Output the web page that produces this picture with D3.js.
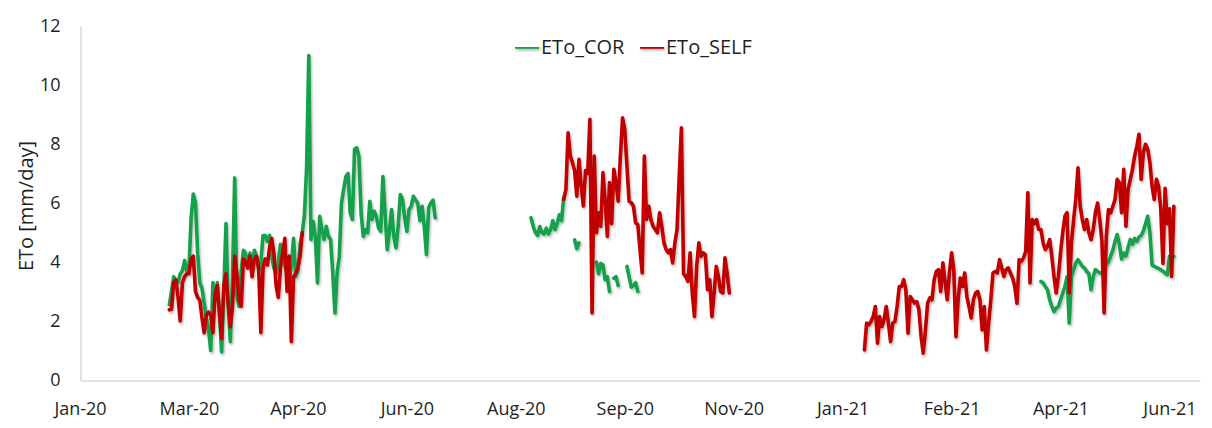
<!DOCTYPE html>
<html>
<head>
<meta charset="utf-8">
<script src="https://cdn.jsdelivr.net/npm/d3@7"></script>
<style>
  html, body { margin: 0; padding: 0; background: #fff; }
  svg { display: block; font-family: "Open Sans", sans-serif; }
</style>
</head>
<body>
<svg id="chart" width="1212" height="428"></svg>
<script>
// Daily reference evapotranspiration ETo (mm/day).
// Each campaign is a start date plus one value per day; null marks a missing day.
const corSpring2020Start = "2020-02-29";
const corSpring2020 = [
  2.55, 3.0, 3.5, 3.35, 3.3, 3.6, 3.7, 4.05, 3.7, 3.75,
  5.5, 6.3, 6.0, 4.3, 3.3, 3.1, 2.6, 2.1, 1.7, 1.0,
  3.3, 2.7, 3.3, 2.2, 0.95, 3.0, 5.3, 2.5, 1.3, 3.5,
  6.85, 2.8, 2.5, 3.7, 4.4, 4.3, 3.8, 4.3, 3.6, 4.4,
  4.2, 3.7, 4.0, 4.9, 4.9, 4.7, 4.9, 4.2, 3.8, 3.6,
  4.0, 4.6, 4.5, 3.9, 3.6, 3.3, 3.9, 4.8, 3.5, 3.7,
  4.6, 5.0, 5.6, 7.2, 11.0, 4.76, 5.38, 4.87, 3.29, 5.55,
  5.1, 4.76, 5.21, 4.87, 4.76, 3.63, 2.27, 3.63, 4.19, 6.0,
  6.46, 6.9, 7.0, 5.67, 5.44, 7.82, 7.87, 7.59, 5.67, 4.87,
  5.1, 4.99, 6.06, 5.44, 5.72, 5.55, 5.16, 5.04, 6.9, 5.67,
  4.42, 5.04, 5.78, 4.87, 4.48, 5.2, 6.29, 6.12, 5.5, 5.04,
  5.78, 5.89, 6.23, 6.1, 6.0, 5.4, 5.89, 5.2, 4.25, 5.84,
  6.0, 6.1, 5.5
];

const selfSpring2020Start = "2020-02-29";
const selfSpring2020 = [
  2.38, 2.4, 3.3, 3.4, 2.8, 2.0, 3.3, 3.5, 3.6, 3.6,
  4.1, 4.2, 3.0, 2.8, 2.7, 2.1, 1.6, 2.2, 2.3, 2.2,
  1.6, 2.9, 3.2, 2.3, 1.4, 3.2, 3.6, 2.6, 1.8, 2.5,
  4.2, 3.6, 2.7, 2.5, 4.1, 4.0, 3.8, 4.2, 3.5, 4.1,
  4.2, 3.8, 1.6, 3.8, 4.1, 3.9, 4.5, 4.8, 4.3, 3.2,
  2.8, 3.8, 4.3, 4.8, 3.0, 4.2, 1.3, 3.5, 3.6, 3.8,
  4.2, 5.0
];

const corSummer2020Start = "2020-08-13";
const corSummer2020 = [
  5.5, 5.2, 5.0, 4.9, 5.2, 5.0, 4.95, 5.15, 4.95, 5.1,
  5.4, 5.1, 5.3, 5.6, 5.4, 6.2, null, null, null, null,
  4.75, 4.45, 4.65, null, null, null, null, null, null, null,
  4.0, 3.6, 3.95, 3.9, 3.4, 3.5, 3.0, null, 3.45, 3.5,
  3.2, null, null, null, 3.85, 3.5, 3.15, 3.2, 3.3, 3.0
];

const selfAutumn2020Start = "2020-08-28";
const selfAutumn2020 = [
  6.12, 6.46, 8.38, 7.6, 7.37, 7.1, 6.23, 7.48, 6.6, 5.9,
  7.1, 7.0, 8.84, 2.27, 7.59, 4.99, 5.67, 5.21, 7.03, 6.1,
  4.87, 6.69, 5.3, 7.14, 6.69, 6.06, 7.6, 8.89, 8.5, 7.25,
  6.06, 6.01, 5.89, 5.33, 5.27, 4.42, 3.63, 7.59, 5.44, 5.89,
  5.44, 5.21, 5.1, 4.99, 5.67, 5.2, 4.65, 4.42, 4.31, 4.42,
  3.97, 4.65, 5.1, 6.9, 8.55, 3.6, 3.51, 3.34, 4.31, 2.95,
  2.15, 3.85, 4.65, 4.19, 4.31, 4.25, 3.06, 3.4, 2.15, 2.95,
  3.85, 3.51, 3.0, 2.95, 4.14, 3.6, 2.95
];

const self2021Start = "2021-01-13";
const self2021 = [
  1.02, 1.93, 1.87, 1.98, 2.15, 2.49, 1.25, 2.15, 1.81, 2.04,
  2.49, 1.93, 1.3, 1.93, 1.98, 2.49, 3.17, 3.17, 3.4, 3.06,
  1.59, 2.83, 2.72, 2.61, 2.66, 2.38, 1.47, 0.91, 1.7, 2.61,
  2.78, 2.72, 3.4, 3.68, 3.74, 3.0, 3.97, 3.34, 2.72, 3.63,
  4.31, 3.74, 1.47, 2.72, 3.46, 3.17, 3.63, 2.83, 2.49, 2.1,
  2.72, 2.95, 3.0, 2.72, 1.7, 2.49, 1.02, 1.93, 2.72, 3.63,
  3.68, 3.63, 4.08, 3.8, 3.51, 3.74, 3.8, 3.63, 3.46, 3.17,
  2.6, 4.08, 4.02, 4.14, 4.36, 6.35, 3.29, 5.44, 5.3, 5.44,
  5.1, 5.1, 4.65, 4.42, 4.53, 4.76, 4.19, 3.51, 2.95, 3.51,
  4.31, 4.99, 5.55, 5.67, 2.95, 4.65, 5.44, 6.12, 7.19, 5.89,
  5.44, 5.1, 5.44, 4.99, 4.76, 5.1, 5.67, 6.0, 5.44, 4.7,
  2.27, 4.87, 5.78, 5.67, 5.89, 6.12, 6.8, 6.69, 5.67, 7.14,
  5.21, 6.46, 6.8, 7.14, 7.59, 7.93, 8.33, 6.8, 7.71, 7.99,
  7.82, 7.37, 6.57, 6.12, 6.8, 6.57, 5.8, 3.95, 6.5, 5.3,
  5.8, 3.51, 5.89
];

const cor2021Start = "2021-04-04";
const cor2021 = [
  3.34, 3.29, 3.17, 3.06, 2.72, 2.49, 2.32, 2.44, 2.49, 2.72,
  2.95, 3.17, 3.5, 1.93, 3.51, 3.74, 3.97, 4.08, 3.97, 3.85,
  3.8, 3.68, 3.6, 3.06, 3.51, 3.74, 3.68, 3.63, 3.63, 3.7,
  3.9, 4.0, 4.2, 4.4, 4.7, 4.93, 4.6, 4.1, 4.3, 4.2,
  4.5, 4.76, 4.6, 4.8, 4.7, 4.85, 4.9, 5.05, 5.3, 5.55,
  5.0, 3.9, 3.85, 3.82, 3.78, 3.74, 3.68, 3.62, 3.57, 4.19,
  4.2, 4.19
];

// Axis ticks
const tickDates = ["2020-01-19", "2020-03-09", "2020-04-28", "2020-06-17", "2020-08-06",
                   "2020-09-25", "2020-11-14", "2021-01-03", "2021-02-22", "2021-04-13", "2021-06-02"];
const tickLabels = ["Jan-20", "Mar-20", "Apr-20", "Jun-20", "Aug-20",
                    "Sep-20", "Nov-20", "Jan-21", "Feb-21", "Apr-21", "Jun-21"];
const yTicks = [0, 2, 4, 6, 8, 10, 12];

const seriesNames = ["ETo_COR", "ETo_SELF"];
const seriesColors = ["#15a04b", "#c00000"];

const parse = d3.utcParse("%Y-%m-%d");
const svg = d3.select("#chart");

const x = d3.scaleUtc()
  .domain([parse("2020-01-19"), parse("2021-06-16")])
  .range([80, 1200]);
const y = d3.scaleLinear().domain([0, 12]).range([380, 26]);

// soft drop shadow under the lines
const defs = svg.append("defs");
defs.append("filter").attr("id", "lineShadow")
  .attr("filterUnits", "userSpaceOnUse")
  .attr("x", 0).attr("y", 0).attr("width", 1212).attr("height", 428)
  .append("feDropShadow")
  .attr("dx", 1.2).attr("dy", 1.8).attr("stdDeviation", 1.2)
  .attr("flood-color", "#000").attr("flood-opacity", 0.28);

// axes
const xAxis = d3.axisBottom(x)
  .tickValues(tickDates.map(parse))
  .tickFormat((d, i) => tickLabels[i])
  .tickSize(0).tickPadding(22);
const gx = svg.append("g").attr("transform", "translate(0,380.5)").call(xAxis);
gx.select(".domain").attr("stroke", "#d9d9d9").attr("stroke-width", 1.5);
gx.selectAll("text").attr("font-size", 18).attr("fill", "#1f1f1f")
  .attr("font-family", "'Open Sans', sans-serif");

const yAxis = d3.axisLeft(y).tickValues(yTicks).tickSize(0).tickPadding(20);
const gy = svg.append("g").attr("transform", "translate(80.5,0)").call(yAxis);
gy.select(".domain").attr("stroke", "#d9d9d9").attr("stroke-width", 1.5);
gy.selectAll("text").attr("font-size", 18).attr("fill", "#1f1f1f")
  .attr("font-family", "'Open Sans', sans-serif");

svg.append("text")
  .attr("transform", "translate(33,206) rotate(-90)")
  .attr("text-anchor", "middle")
  .attr("font-size", 20).attr("fill", "#1f1f1f")
  .text("ETo [mm/day]");

// series
function toPoints(start, values) {
  const t0 = parse(start);
  return values.map((v, i) => ({ date: d3.utcDay.offset(t0, i), v }));
}
const line = d3.line()
  .defined(d => d.v != null)
  .x(d => x(d.date))
  .y(d => y(d.v));

const corSegments = [
  [corSpring2020Start, corSpring2020],
  [corSummer2020Start, corSummer2020],
  [cor2021Start, cor2021]
];
const selfSegments = [
  [selfSpring2020Start, selfSpring2020],
  [selfAutumn2020Start, selfAutumn2020],
  [self2021Start, self2021]
];

const plot = svg.append("g").attr("filter", "url(#lineShadow)");
[corSegments, selfSegments].forEach((segs, si) => {
  segs.forEach(([start, vals]) => {
    plot.append("path")
      .datum(toPoints(start, vals))
      .attr("fill", "none")
      .attr("stroke", seriesColors[si])
      .attr("stroke-width", 3.6)
      .attr("stroke-linejoin", "round")
      .attr("stroke-linecap", "round")
      .attr("d", line);
  });
});

// legend
const legend = svg.append("g").attr("transform", "translate(515,47)")
  .attr("filter", "url(#lineShadow)");
const legendX = [0, 125];
seriesNames.forEach((name, i) => {
  const g = legend.append("g").attr("transform", `translate(${legendX[i]},0)`);
  g.append("line").attr("x1", 0).attr("x2", 24).attr("y1", 0).attr("y2", 0)
    .attr("stroke", seriesColors[i]).attr("stroke-width", 3.6);
});
seriesNames.forEach((name, i) => {
  svg.append("text").attr("x", 515 + legendX[i] + 26).attr("y", 54)
    .attr("font-size", 20).attr("fill", "#1f1f1f")
    .text(name);
});
</script>
</body>
</html>
